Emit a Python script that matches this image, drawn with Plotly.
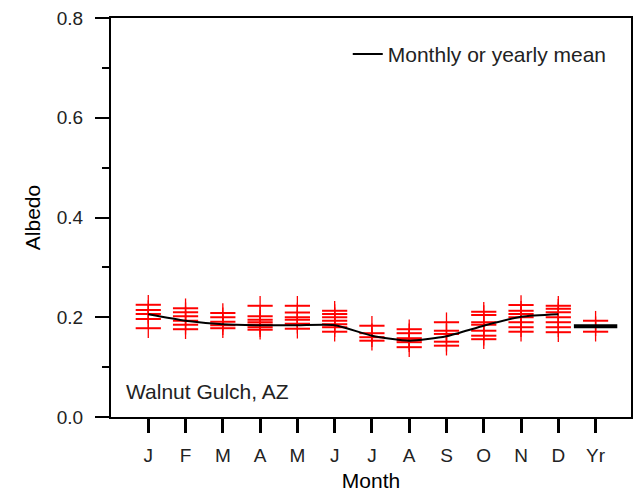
import plotly.graph_objects as go

month_labels = ["J", "F", "M", "A", "M", "J", "J", "A", "S", "O", "N", "D", "Yr"]
month_pos = [1, 2, 3, 4, 5, 6, 7, 8, 9, 10, 11, 12, 13]

yearly_values = [
    [0.225, 0.2145, 0.2065, 0.1965, 0.178],
    [0.218, 0.21, 0.202, 0.193, 0.185, 0.176],
    [0.2085, 0.2, 0.191, 0.184, 0.178],
    [0.223, 0.202, 0.195, 0.19, 0.185, 0.18, 0.175],
    [0.223, 0.2095, 0.2, 0.195, 0.187, 0.177],
    [0.213, 0.2065, 0.2, 0.193, 0.186, 0.18, 0.171],
    [0.183, 0.168, 0.16, 0.153],
    [0.176, 0.168, 0.158, 0.154, 0.15, 0.14],
    [0.19, 0.173, 0.1665, 0.151, 0.143],
    [0.211, 0.2045, 0.19, 0.185, 0.173, 0.163, 0.156],
    [0.2245, 0.213, 0.2065, 0.2, 0.19, 0.18, 0.171],
    [0.223, 0.217, 0.21, 0.2, 0.19, 0.18, 0.17],
    [0.193, 0.182, 0.171],
]

monthly_mean = [0.206, 0.193, 0.186, 0.184, 0.184, 0.184, 0.163, 0.153, 0.162, 0.183, 0.201, 0.206]
yearly_mean = 0.182

xs, ys = [], []
for p, vals in zip(month_pos, yearly_values):
    for v in vals:
        xs.append(p)
        ys.append(v)

fig = go.Figure()
fig.add_trace(go.Scatter(x=xs, y=ys, mode="markers", showlegend=False, hoverinfo="skip",
                         marker=dict(symbol="line-ns", size=14, line=dict(color="#ff0000", width=1.3))))
fig.add_trace(go.Scatter(x=xs, y=ys, mode="markers", showlegend=False, hoverinfo="skip",
                         marker=dict(symbol="line-ew", size=18, line=dict(color="#ff0000", width=2))))
fig.add_trace(go.Scatter(x=month_pos[:12], y=monthly_mean, mode="lines", name="Monthly or yearly mean",
                         line=dict(color="black", width=2, shape="spline", smoothing=0.6)))
fig.add_trace(go.Scatter(x=[month_pos[12]], y=[yearly_mean], mode="markers", showlegend=False,
                         marker=dict(symbol="line-ew", size=31, line=dict(color="black", width=4))))

font_fam = "Liberation Sans, Arial, sans-serif"
fig.add_annotation(text="Walnut Gulch, AZ", xref="paper", yref="paper", x=0.025, y=0.03,
                   xanchor="left", yanchor="bottom", showarrow=False,
                   font=dict(size=21, color="#222222", family=font_fam))

fig.update_layout(
    width=638, height=494,
    margin=dict(l=111, r=5, t=18, b=76),
    paper_bgcolor="white", plot_bgcolor="white",
    font=dict(family=font_fam, color="#222222"),
    showlegend=True,
    legend=dict(x=0.963, y=0.96, xanchor="right", yanchor="top", bgcolor="rgba(0,0,0,0)",
                font=dict(size=21, color="#222222")),
    xaxis=dict(range=[0, 13.95], tickvals=month_pos, ticktext=month_labels,
               ticks="outside", ticklen=14, tickwidth=3, tickcolor="black",
               showline=True, linecolor="black", linewidth=2, mirror=True,
               showgrid=False, zeroline=False, ticklabelstandoff=6,
               tickfont=dict(size=19, color="#222222"),
               title=dict(text="Month", font=dict(size=21, color="black"), standoff=9)),
    yaxis=dict(range=[0, 0.8], tickvals=[0, 0.2, 0.4, 0.6, 0.8],
               ticktext=["0.0", "0.2", "0.4", "0.6", "0.8"],
               ticks="outside", ticklen=14, tickwidth=2, tickcolor="black",
               minor=dict(tickvals=[0.1, 0.3, 0.5, 0.7], ticks="outside", ticklen=7, tickwidth=2, tickcolor="black"),
               showline=True, linecolor="black", linewidth=2, mirror=True,
               showgrid=False, zeroline=False, ticklabelstandoff=8,
               tickfont=dict(size=19, color="#222222"),
               title=dict(text="Albedo", font=dict(size=21, color="black"), standoff=10)),
)

fig.write_html("out.html")
